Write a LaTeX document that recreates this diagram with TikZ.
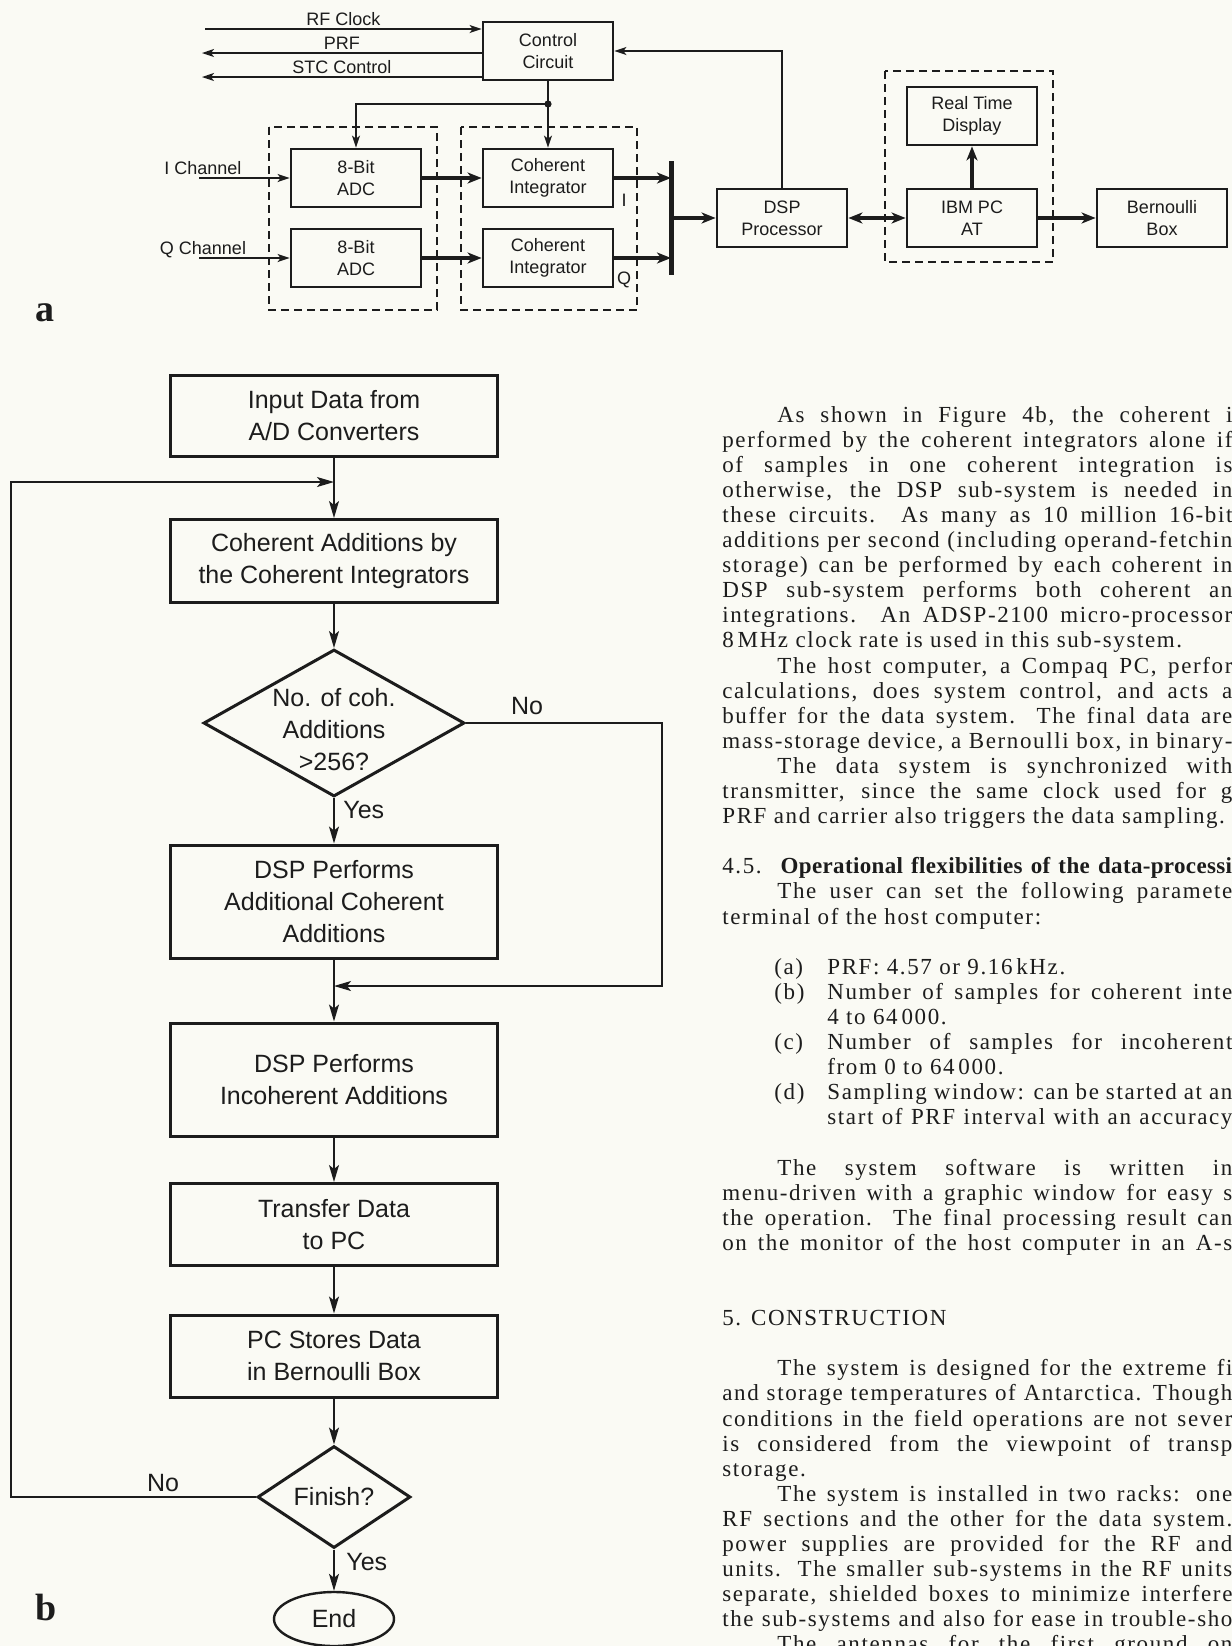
\documentclass[tikz,border=0pt]{standalone}
\usepackage{fontspec}
\setmainfont{Liberation Serif}
\newfontfamily\diagfont{Liberation Sans}
\newfontfamily\colfont[LetterSpace=7]{Liberation Serif}
\usetikzlibrary{arrows.meta,shapes.geometric}

\definecolor{paper}{RGB}{250,250,244}
\definecolor{ink}{RGB}{28,28,28}

\tikzset{
  blk/.style={draw=ink,line width=1.4pt,minimum width=65pt,minimum height=29pt,inner sep=0pt,align=center,text=ink,font=\diagfont\fontsize{9}{11}\selectfont},
  lbl/.style={inner sep=0pt,text=ink,font=\diagfont\fontsize{9}{11}\selectfont},
  grp/.style={draw=ink,line width=0.7pt,dash pattern=on 4pt off 2.5pt},
  sig/.style={draw=ink,line width=0.7pt,-{Stealth[length=6pt,width=4pt,inset=1.5pt]}},
  dat/.style={draw=ink,line width=1.8pt,-{Stealth[length=7pt,width=5.5pt,inset=2pt]}},
  datboth/.style={draw=ink,line width=1.8pt,{Stealth[length=7pt,width=5.5pt,inset=2pt]}-{Stealth[length=7pt,width=5.5pt,inset=2pt]}},
  bus/.style={draw=ink,line width=2.5pt},
  proc/.style={draw=ink,line width=1.5pt,minimum width=163.5pt,inner sep=0pt,align=center,text=ink,font=\diagfont\fontsize{12.5}{16}\selectfont},
  cond/.style={diamond,draw=ink,line width=1.5pt,inner sep=0pt},
  endbox/.style={ellipse,draw=ink,line width=1.2pt,minimum width=60pt,minimum height=27pt,inner sep=0pt,text=ink,font=\diagfont\fontsize{12.5}{16}\selectfont},
  ftxt/.style={inner sep=0pt,align=center,text=ink,font=\diagfont\fontsize{12.5}{16}\selectfont},
  flow/.style={draw=ink,line width=0.75pt,-{Stealth[length=8.5pt,width=5pt,inset=2pt]}},
  tag/.style={inner sep=0pt,text=ink,font=\bfseries\fontsize{19}{19}\selectfont},
  col/.style={anchor=base west,inner sep=0pt,text=ink,font=\colfont\fontsize{11.5}{12.5}\selectfont},
}

\begin{document}
\begin{tikzpicture}[x=0.5pt,y=-0.5pt]
  \useasboundingbox (0,0) rectangle (1232,1646);
  \fill[paper] (0,0) rectangle (1232,1646);

  % a: block diagram
  \node[blk] (ctrl) at (548,51) {Control\\Circuit};
  \node[blk] (adcI) at (356,178) {8-Bit\\ADC};
  \node[blk] (adcQ) at (356,258) {8-Bit\\ADC};
  \node[blk] (cohI) at (548,178) {Coherent\\Integrator};
  \node[blk] (cohQ) at (548,258) {Coherent\\Integrator};
  \node[blk] (dsp) at (782,218) {DSP\\Processor};
  \node[blk] (ibm) at (972,218) {IBM PC\\AT};
  \node[blk] (rtd) at (972,116) {Real Time\\Display};
  \node[blk] (bern) at (1162,218) {Bernoulli\\Box};

  \draw[grp] (269,127) rectangle (437,310);
  \draw[grp] (461,127) rectangle (637,310);
  \draw[grp] (885,71) rectangle (1053,262);

  \coordinate (rf) at (205,29);
  \coordinate (prf) at (202,53);
  \coordinate (stc) at (202,77);
  \draw[sig] (rf) -- (rf -| ctrl.west) node[lbl,midway,above=1.5pt] (rflbl) {RF Clock};
  \draw[sig] (prf -| ctrl.west) -- (prf) node[lbl,midway,above=1.5pt] (prflbl) {PRF};
  \draw[sig] (stc -| ctrl.west) -- (stc) node[lbl,midway,above=1.5pt] (stclbl) {STC Control};

  \coordinate (ich) at (199,178);
  \coordinate (qch) at (199,258);
  \node[lbl,anchor=base] (ichlbl) at (203,174) {I Channel};
  \node[lbl,anchor=base] (qchlbl) at (203,254) {Q Channel};
  \draw[sig] (ich) -- (adcI.west);
  \draw[sig] (qch) -- (adcQ.west);

  \coordinate (split) at (548,104);
  \draw[sig] (ctrl.south) -- (cohI.north);
  \draw[sig] (split) -| (adcI.north);
  \fill[ink] (split) circle (1.8pt);

  \draw[dat] (adcI) -- (cohI);
  \draw[dat] (adcQ) -- (cohQ);
  \coordinate (bustop) at (671,161);
  \coordinate (busbot) at (671,275);
  \draw[bus] (bustop) -- (busbot);
  \draw[dat] (cohI.east) -- (cohI.east -| bustop);
  \draw[dat] (cohQ.east) -- (cohQ.east -| bustop);
  \node[lbl] (outI) at (624,200) {I};
  \node[lbl] (outQ) at (624,280) {Q};
  \draw[dat] (dsp.west -| bustop) -- (dsp.west);
  \draw[datboth] (dsp) -- (ibm);
  \draw[dat] (ibm) -- (bern);
  \draw[dat] (ibm) -- (rtd);
  \draw[sig] (dsp.north) |- (ctrl.east);

  \node[tag] (taga) at (45,313) {a};

  % b: flow chart
  \node[proc,minimum height=40.5pt] (inp) at (334,415.5) {Input Data from\\A/D Converters};
  \node[proc,minimum height=41.5pt] (coh) at (334,561) {Coherent Additions by\\the Coherent Integrators};
  \node[cond,minimum width=130.5pt,minimum height=73.5pt] (chk) at (334,723) {};
  \node[ftxt] (chktxt) at (334,730) {No. of coh.\\Additions\\>256?};
  \node[proc,minimum height=56.5pt] (add) at (334,901.5) {DSP Performs\\Additional Coherent\\Additions};
  \node[proc,minimum height=56.5pt] (inc) at (334,1079.5) {DSP Performs\\Incoherent Additions};
  \node[proc,minimum height=41pt] (xfer) at (334,1224.5) {Transfer Data\\to PC};
  \node[proc,minimum height=41pt] (store) at (334,1356) {PC Stores Data\\in Bernoulli Box};
  \node[cond,minimum width=76.5pt,minimum height=51pt] (fin) at (334,1497) {};
  \node[ftxt] (fintxt) at (fin) {Finish?};
  \node[endbox] (done) at (334,1619) {End};

  \coordinate (loopin) at (334,482);
  \coordinate (lefttrack) at (11,482);
  \coordinate (righttrack) at (662,986);
  \coordinate (merge) at (334,986);

  \draw[flow] (inp) -- (coh);
  \draw[flow] (coh) -- (chk);
  \draw[flow] (chk) -- (add);
  \draw[flow] (chk.east) -| (righttrack) -- (merge);
  \draw[flow] (add) -- (inc);
  \draw[flow] (inc) -- (xfer);
  \draw[flow] (xfer) -- (store);
  \draw[flow] (store) -- (fin);
  \draw[flow] (fin) -- (done);
  \draw[flow] (fin.west) -| (lefttrack) -- (loopin);

  \node[ftxt] (no1) at (527,706) {No};
  \node[ftxt,anchor=west] (yes1) at (343,810) {Yes};
  \node[ftxt] (no2) at (163,1483) {No};
  \node[ftxt,anchor=west] (yes2) at (346,1562) {Yes};

  \node[tag] (tagb) at (46,1607) {b};

  % text column
  \foreach \i/\x/\txt in {
    0/777/{As shown in Figure 4b, the coherent i},
    1/722/{performed by the coherent integrators alone if},
    2/722/{of samples in one coherent integration is},
    3/722/{otherwise, the DSP sub-system is needed in},
    4/722/{these circuits. As many as 10 million 16-bit},
    5/722/{additions per second (including operand-fetchin},
    6/722/{storage) can be performed by each coherent in},
    7/722/{DSP sub-system performs both coherent an},
    8/722/{integrations. An ADSP-2100 micro-processor},
    10/777/{The host computer, a Compaq PC, perfor},
    11/722/{calculations, does system control, and acts a},
    12/722/{buffer for the data system. The final data are},
    13/722/{mass-storage device, a Bernoulli box, in binary-},
    14/777/{The data system is synchronized with},
    15/722/{transmitter, since the same clock used for g},
    18/722/{4.5. \textbf{\addfontfeature{LetterSpace=1.5}Operational flexibilities of the data-processi}},
    19/777/{The user can set the following paramete},
    23/827/{Number of samples for coherent inte},
    25/827/{Number of samples for incoherent},
    27/827/{Sampling window: can be started at an},
    28/827/{start of PRF interval with an accuracy},
    30/777/{The system software is written in},
    31/722/{menu-driven with a graphic window for easy s},
    32/722/{the operation. The final processing result can},
    33/722/{on the monitor of the host computer in an A-s},
    38/777/{The system is designed for the extreme fi},
    39/722/{and storage temperatures of Antarctica. Though},
    40/722/{conditions in the field operations are not sever},
    41/722/{is considered from the viewpoint of transp},
    43/777/{The system is installed in two racks: one},
    44/722/{RF sections and the other for the data system.},
    45/722/{power supplies are provided for the RF and},
    46/722/{units. The smaller sub-systems in the RF units},
    47/722/{separate, shielded boxes to minimize interfere},
    48/722/{the sub-systems and also for ease in trouble-sho},
    49/777/{The antennas for the first ground on}}{
    \pgfmathsetmacro\yy{422+25.1*\i}
    \pgfmathsetmacro\ww{(1232-\x)*0.5}
    \node[col] (ln\i) at (\x,\yy) {\makebox[\ww pt][s]{\txt}};
  }
  \foreach \i/\x/\txt in {
    9/722/{8\,MHz clock rate is used in this sub-system.},
    16/722/{PRF and carrier also triggers the data sampling.},
    20/722/{terminal of the host computer:},
    22/827/{PRF: 4.57 or 9.16\,kHz.},
    24/827/{4 to 64\,000.},
    26/827/{from 0 to 64\,000.},
    36/722/{5. CONSTRUCTION},
    42/722/{storage.}}{
    \pgfmathsetmacro\yy{422+25.1*\i}
    \node[col] (ln\i) at (\x,\yy) {\txt};
  }
  \foreach \i/\lab in {22/a,23/b,25/c,27/d}{
    \pgfmathsetmacro\yy{422+25.1*\i}
    \node[col] (item\i) at (774,\yy) {(\lab)};
  }
\end{tikzpicture}
\end{document}
